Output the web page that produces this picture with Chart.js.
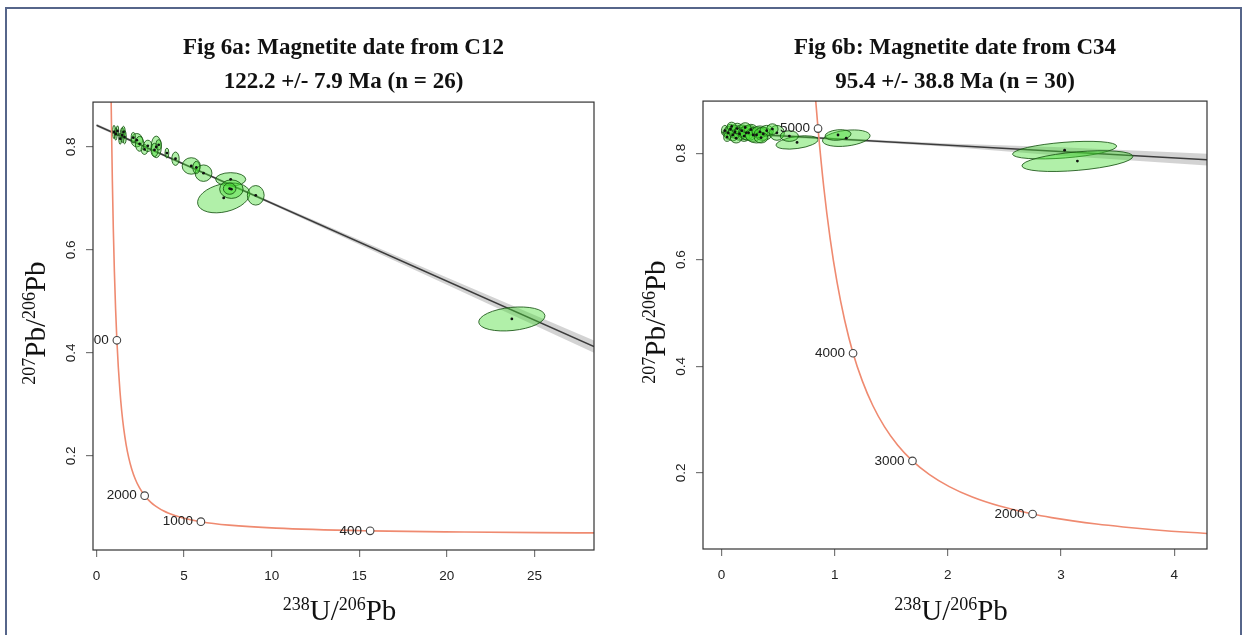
<!DOCTYPE html>
<html>
<head>
<meta charset="utf-8">
<script src="https://cdn.jsdelivr.net/npm/chart.js@4.4.1/dist/chart.umd.min.js"></script>
<style>
  body { margin: 0; background: #fff; }
  #page { position: relative; width: 1246px; height: 635px; overflow: hidden; background: #fff; }
  #frame { position: absolute; left: 5px; top: 7px; width: 1233px; height: 640px; border: 2px solid #56658a; }
  .panel { position: absolute; top: 0; width: 623px; height: 635px; }
</style>
</head>
<body>
<div id="page">
  <div id="frame"></div>
  <div class="panel" style="left:0"><canvas id="chartA" width="623" height="635"></canvas></div>
  <div class="panel" style="left:623px"><canvas id="chartB" width="623" height="635"></canvas></div>
</div>
<script>
// concordia curve (238U/206Pb, 207Pb/206Pb)
const concX = [0.8062, 0.8292, 0.8534, 0.9046, 0.9604, 1.0216, 1.0887, 1.1628, 1.2453, 1.3371, 1.4399, 1.5557, 1.6875, 1.8382, 2.0129, 2.2168, 2.4582, 2.749, 2.917, 3.1046, 3.3139, 3.5499, 3.8168, 4.122, 4.8876, 5.959, 7.5677, 10.252, 15.62, 20.99, 25.29, 28.80]
const concY = [0.974, 0.9075, 0.846, 0.735, 0.6397, 0.5574, 0.4864, 0.4246, 0.3723, 0.3266, 0.2869, 0.2525, 0.2227, 0.1969, 0.1744, 0.1549, 0.1379, 0.1230, 0.1163, 0.1101, 0.1042, 0.0988, 0.0936, 0.0888, 0.0801, 0.0725, 0.0658, 0.0599, 0.0547, 0.0524, 0.0512, 0.0506]

// ---- Fig 6a (C12) ----
const aTitle = ['Fig 6a: Magnetite date from C12', '122.2 +/- 7.9 Ma (n = 26)']
const aXTicks = [0, 5, 10, 15, 20, 25]
const aYTicks = [0.2, 0.4, 0.6, 0.8]
const aAges = ['4000', '2000', '1000', '400']
const aAgeX = [1.1628, 2.749, 5.959, 15.62]
const aAgeY = [0.4246, 0.1230, 0.0725, 0.0547]
const aLineX = [0, 28.4]
const aLineY = [0.842, 0.4123]
const aBandX = [0, 4, 8, 14, 20, 28.4]
const aBandHi = [0.845, 0.7837, 0.723, 0.6342, 0.5464, 0.424]
const aBandLo = [0.839, 0.7793, 0.719, 0.6262, 0.5324, 0.4006]
const aEllX = [1.00, 1.10, 1.20, 1.47, 1.54, 1.60, 1.35, 2.30, 2.46, 2.74, 2.93, 3.41, 3.31, 3.55, 4.02, 4.51, 5.41, 6.11, 7.66, 7.26, 7.70, 7.60, 9.09, 23.71, 2.10, 5.70]
const aEllY = [0.829, 0.825, 0.831, 0.823, 0.829, 0.819, 0.816, 0.813, 0.806, 0.795, 0.802, 0.800, 0.794, 0.804, 0.788, 0.777, 0.763, 0.749, 0.737, 0.701, 0.718, 0.719, 0.706, 0.466, 0.818, 0.760]
const aEllSX = [0.09, 0.08, 0.07, 0.12, 0.10, 0.10, 0.08, 0.33, 0.24, 0.19, 0.24, 0.29, 0.20, 0.15, 0.11, 0.21, 0.52, 0.48, 0.86, 1.49, 0.67, 0.36, 0.48, 1.89, 0.12, 0.20]
const aEllSY = [0.013, 0.012, 0.010, 0.0145, 0.011, 0.013, 0.011, 0.013, 0.0145, 0.0097, 0.011, 0.021, 0.013, 0.010, 0.0097, 0.013, 0.016, 0.016, 0.013, 0.029, 0.018, 0.011, 0.019, 0.0233, 0.010, 0.012]
const aEllRho = [0, 0, 0, 0, 0, 0, 0, 0, 0, 0, 0, 0, 0, 0, 0, 0, 0, 0, 0, 0.3, 0, 0, 0, 0.25, 0, 0]

// ---- Fig 6b (C34) ----
const bTitle = ['Fig 6b: Magnetite date from C34', '95.4 +/- 38.8 Ma (n = 30)']
const bXTicks = [0, 1, 2, 3, 4]
const bYTicks = [0.2, 0.4, 0.6, 0.8]
const bAges = ['5000', '4000', '3000', '2000']
const bAgeX = [0.8534, 1.1628, 1.6875, 2.749]
const bAgeY = [0.846, 0.4246, 0.2227, 0.1230]
const bLineX = [0, 4.3]
const bLineY = [0.8387, 0.7875]
const bBandX = [0, 1, 2, 3, 4.3]
const bBandHi = [0.8427, 0.8288, 0.8179, 0.811, 0.7985]
const bBandLo = [0.8347, 0.8248, 0.8119, 0.795, 0.7765]
const bEllX = [0.03, 0.06, 0.08, 0.10, 0.12, 0.14, 0.16, 0.18, 0.20, 0.22, 0.24, 0.26, 0.28, 0.31, 0.34, 0.37, 0.40, 0.49, 0.668, 0.60, 1.103, 1.03, 3.032, 3.145, 0.05, 0.13, 0.09, 0.21, 0.35, 0.45]
const bEllY = [0.842, 0.838, 0.845, 0.834, 0.840, 0.846, 0.836, 0.842, 0.832, 0.838, 0.838, 0.844, 0.834, 0.834, 0.840, 0.836, 0.842, 0.838, 0.820, 0.832, 0.828, 0.834, 0.8056, 0.785, 0.830, 0.828, 0.850, 0.848, 0.829, 0.845]
const bEllSX = [0.03, 0.04, 0.04, 0.05, 0.06, 0.05, 0.05, 0.06, 0.05, 0.07, 0.08, 0.06, 0.07, 0.10, 0.07, 0.08, 0.06, 0.066, 0.185, 0.08, 0.21, 0.115, 0.46, 0.49, 0.03, 0.05, 0.04, 0.05, 0.06, 0.05]
const bEllSY = [0.010, 0.012, 0.009, 0.011, 0.012, 0.010, 0.012, 0.011, 0.010, 0.013, 0.014, 0.010, 0.012, 0.015, 0.011, 0.012, 0.010, 0.014, 0.0125, 0.010, 0.0155, 0.010, 0.0165, 0.0195, 0.008, 0.009, 0.008, 0.009, 0.010, 0.010]
const bEllRho = [0, 0, 0, 0, 0, 0, 0, 0, 0, 0, 0, 0, 0, 0, 0, 0, 0, 0, 0.4, 0, 0.3, 0.2, 0.45, 0.45, 0, 0, 0, 0, 0, 0]

const xLabelParts = [['238', true], ['U/', false], ['206', true], ['Pb', false]]
const yLabelParts = [['207', true], ['Pb/', false], ['206', true], ['Pb', false]]

const pts = (xs, ys) => xs.map((x, i) => ({ x: x, y: ys[i] }))

// error ellipses, drawn after the regression line so they sit on top of it
const ellipsePlugin = {
    id: 'ellipses',
    afterDatasetDraw(chart, args, opts) {
        if (args.index !== 2) return
        const xs = chart.scales.x, ys = chart.scales.y, ctx = chart.ctx, ca = chart.chartArea
        const kx = Math.abs(xs.getPixelForValue(1) - xs.getPixelForValue(0))
        const ky = Math.abs(ys.getPixelForValue(1) - ys.getPixelForValue(0))
        ctx.save()
        ctx.beginPath()
        ctx.rect(ca.left, ca.top, ca.right - ca.left, ca.bottom - ca.top)
        ctx.clip()
        opts.x.forEach((x, i) => {
            const cx = xs.getPixelForValue(x), cy = ys.getPixelForValue(opts.y[i])
            const px = opts.sx[i] * kx, py = opts.sy[i] * ky
            const a = px * px, c = py * py, b = -opts.rho[i] * px * py
            const m = (a + c) / 2, d = Math.sqrt(((a - c) / 2) ** 2 + b * b)
            const r1 = Math.sqrt(m + d), r2 = Math.sqrt(Math.max(m - d, 0.5))
            const ang = 0.5 * Math.atan2(2 * b, a - c)
            ctx.beginPath()
            ctx.ellipse(cx, cy, r1, r2, ang, 0, Math.PI * 2)
            ctx.fillStyle = 'rgba(70,220,50,0.42)'
            ctx.fill()
            ctx.lineWidth = 1
            ctx.strokeStyle = 'rgba(25,85,20,0.85)'
            ctx.stroke()
        })
        opts.x.forEach((x, i) => {
            ctx.beginPath()
            ctx.arc(xs.getPixelForValue(x), ys.getPixelForValue(opts.y[i]), 1.4, 0, Math.PI * 2)
            ctx.fillStyle = '#111'
            ctx.fill()
        })
        ctx.restore()
    }
}

// box, age labels and the superscript axis titles
const decorPlugin = {
    id: 'decor',
    afterDatasetsDraw(chart, args, opts) {
        const ctx = chart.ctx, ca = chart.chartArea
        const xs = chart.scales.x, ys = chart.scales.y
        ctx.save()
        ctx.beginPath()
        ctx.rect(ca.left, ca.top, ca.right - ca.left, ca.bottom - ca.top)
        ctx.clip()
        ctx.font = '13.5px "Liberation Sans", Arial, sans-serif'
        ctx.fillStyle = '#222'
        ctx.textAlign = 'right'
        ctx.textBaseline = 'middle'
        opts.ages.forEach((t, i) => {
            ctx.fillText(t, xs.getPixelForValue(opts.ageX[i]) - 8, ys.getPixelForValue(opts.ageY[i]))
        })
        ctx.restore()

        ctx.save()
        ctx.strokeStyle = '#333'
        ctx.lineWidth = 1.2
        ctx.strokeRect(ca.left, ca.top, ca.right - ca.left, ca.bottom - ca.top)
        ctx.restore()
    },
    afterDraw(chart, args, opts) {
        const ctx = chart.ctx, ca = chart.chartArea
        const drawRich = (parts, cx, cy) => {
            const big = '29px "Liberation Serif", "Times New Roman", serif'
            const small = '18px "Liberation Serif", "Times New Roman", serif'
            let w = 0
            parts.forEach(p => { ctx.font = p[1] ? small : big; w += ctx.measureText(p[0]).width })
            let x = cx - w / 2
            ctx.textBaseline = 'alphabetic'
            ctx.textAlign = 'left'
            ctx.fillStyle = '#111'
            parts.forEach(p => {
                ctx.font = p[1] ? small : big
                ctx.fillText(p[0], x, p[1] ? cy - 10 : cy)
                x += ctx.measureText(p[0]).width
            })
        }
        ctx.save()
        drawRich(xLabelParts, (ca.left + ca.right) / 2 - 4, 620)
        ctx.translate(ca.left - opts.yTitleGap, (ca.top + ca.bottom) / 2 - 3)
        ctx.rotate(-Math.PI / 2)
        drawRich(yLabelParts, 0, 0)
        ctx.restore()
    }
}

function makeChart(id, cfg) {
    const ctx = document.getElementById(id).getContext('2d')
    return new Chart(ctx, {
        type: 'line',
        data: {
            datasets: [{
                data: pts(cfg.bandX, cfg.bandHi),
                borderWidth: 0,
                pointRadius: 0,
                fill: false,
                order: 6
            }, {
                data: pts(cfg.bandX, cfg.bandLo),
                borderWidth: 0,
                pointRadius: 0,
                fill: '-1',
                backgroundColor: 'rgba(175,175,175,0.55)',
                order: 5
            }, {
                data: pts(cfg.lineX, cfg.lineY),
                borderColor: '#3c3c3c',
                borderWidth: 1.6,
                pointRadius: 0,
                order: 4
            }, {
                data: pts(concX, concY),
                borderColor: '#ef8a70',
                borderWidth: 1.6,
                pointRadius: 0,
                cubicInterpolationMode: 'monotone',
                capBezierPoints: false,
                order: 2
            }, {
                type: 'scatter',
                data: pts(cfg.ageX, cfg.ageY),
                pointRadius: 3.8,
                pointBackgroundColor: '#fff',
                pointBorderColor: '#444',
                pointBorderWidth: 1.1,
                order: 1
            }]
        },
        options: {
            responsive: false,
            animation: false,
            events: [],
            layout: { padding: { left: 0, right: cfg.padRight, top: 0, bottom: 0 } },
            scales: {
                x: {
                    type: 'linear',
                    min: cfg.xMin,
                    max: cfg.xMax,
                    afterBuildTicks: s => { s.ticks = cfg.xTicks.map(v => ({ value: v })) },
                    afterFit: s => { s.height = cfg.xAxisH },
                    grid: { drawOnChartArea: false, drawTicks: true, tickLength: 7, color: '#777', lineWidth: 1.2 },
                    border: { display: false },
                    ticks: {
                        padding: 11,
                        color: '#222',
                        font: { family: '"Liberation Sans", Arial, sans-serif', size: 13.5 },
                        callback: v => String(v)
                    }
                },
                y: {
                    type: 'linear',
                    min: cfg.yMin,
                    max: cfg.yMax,
                    afterBuildTicks: s => { s.ticks = cfg.yTicks.map(v => ({ value: v })) },
                    afterFit: s => { s.width = cfg.yAxisW },
                    grid: { drawOnChartArea: false, drawTicks: true, tickLength: 7, color: '#777', lineWidth: 1.2 },
                    border: { display: false },
                    ticks: {
                        minRotation: 90,
                        maxRotation: 90,
                        crossAlign: 'center',
                        padding: 5,
                        color: '#222',
                        font: { family: '"Liberation Sans", Arial, sans-serif', size: 13.5 },
                        callback: v => String(v)
                    }
                }
            },
            plugins: {
                legend: { display: false },
                tooltip: { enabled: false },
                title: {
                    display: true,
                    fullSize: false,
                    text: cfg.title,
                    color: '#111',
                    font: { family: '"Liberation Serif", "Times New Roman", serif', size: 23, weight: 'bold', lineHeight: 1.48 },
                    padding: { top: 31, bottom: cfg.titleBottom }
                },
                ellipses: { x: cfg.ellX, y: cfg.ellY, sx: cfg.ellSX, sy: cfg.ellSY, rho: cfg.ellRho },
                decor: { ages: cfg.ages, ageX: cfg.ageX, ageY: cfg.ageY, yTitleGap: cfg.yTitleGap }
            }
        },
        plugins: [ellipsePlugin, decorPlugin]
    })
}

makeChart('chartA', {
    title: aTitle, xTicks: aXTicks, yTicks: aYTicks,
    xMin: -0.2, xMax: 28.4, yMin: 0.0175, yMax: 0.887,
    padRight: 29, xAxisH: 85, yAxisW: 93, titleBottom: 3, yTitleGap: 48,
    ages: aAges, ageX: aAgeX, ageY: aAgeY,
    lineX: aLineX, lineY: aLineY, bandX: aBandX, bandHi: aBandHi, bandLo: aBandLo,
    ellX: aEllX, ellY: aEllY, ellSX: aEllSX, ellSY: aEllSY, ellRho: aEllRho
})

makeChart('chartB', {
    title: bTitle, xTicks: bXTicks, yTicks: bYTicks,
    xMin: -0.163, xMax: 4.29, yMin: 0.0574, yMax: 0.8976,
    padRight: 39, xAxisH: 86, yAxisW: 80, titleBottom: 2, yTitleGap: 38,
    ages: bAges, ageX: bAgeX, ageY: bAgeY,
    lineX: bLineX, lineY: bLineY, bandX: bBandX, bandHi: bBandHi, bandLo: bBandLo,
    ellX: bEllX, ellY: bEllY, ellSX: bEllSX, ellSY: bEllSY, ellRho: bEllRho
})
</script>
</body>
</html>
